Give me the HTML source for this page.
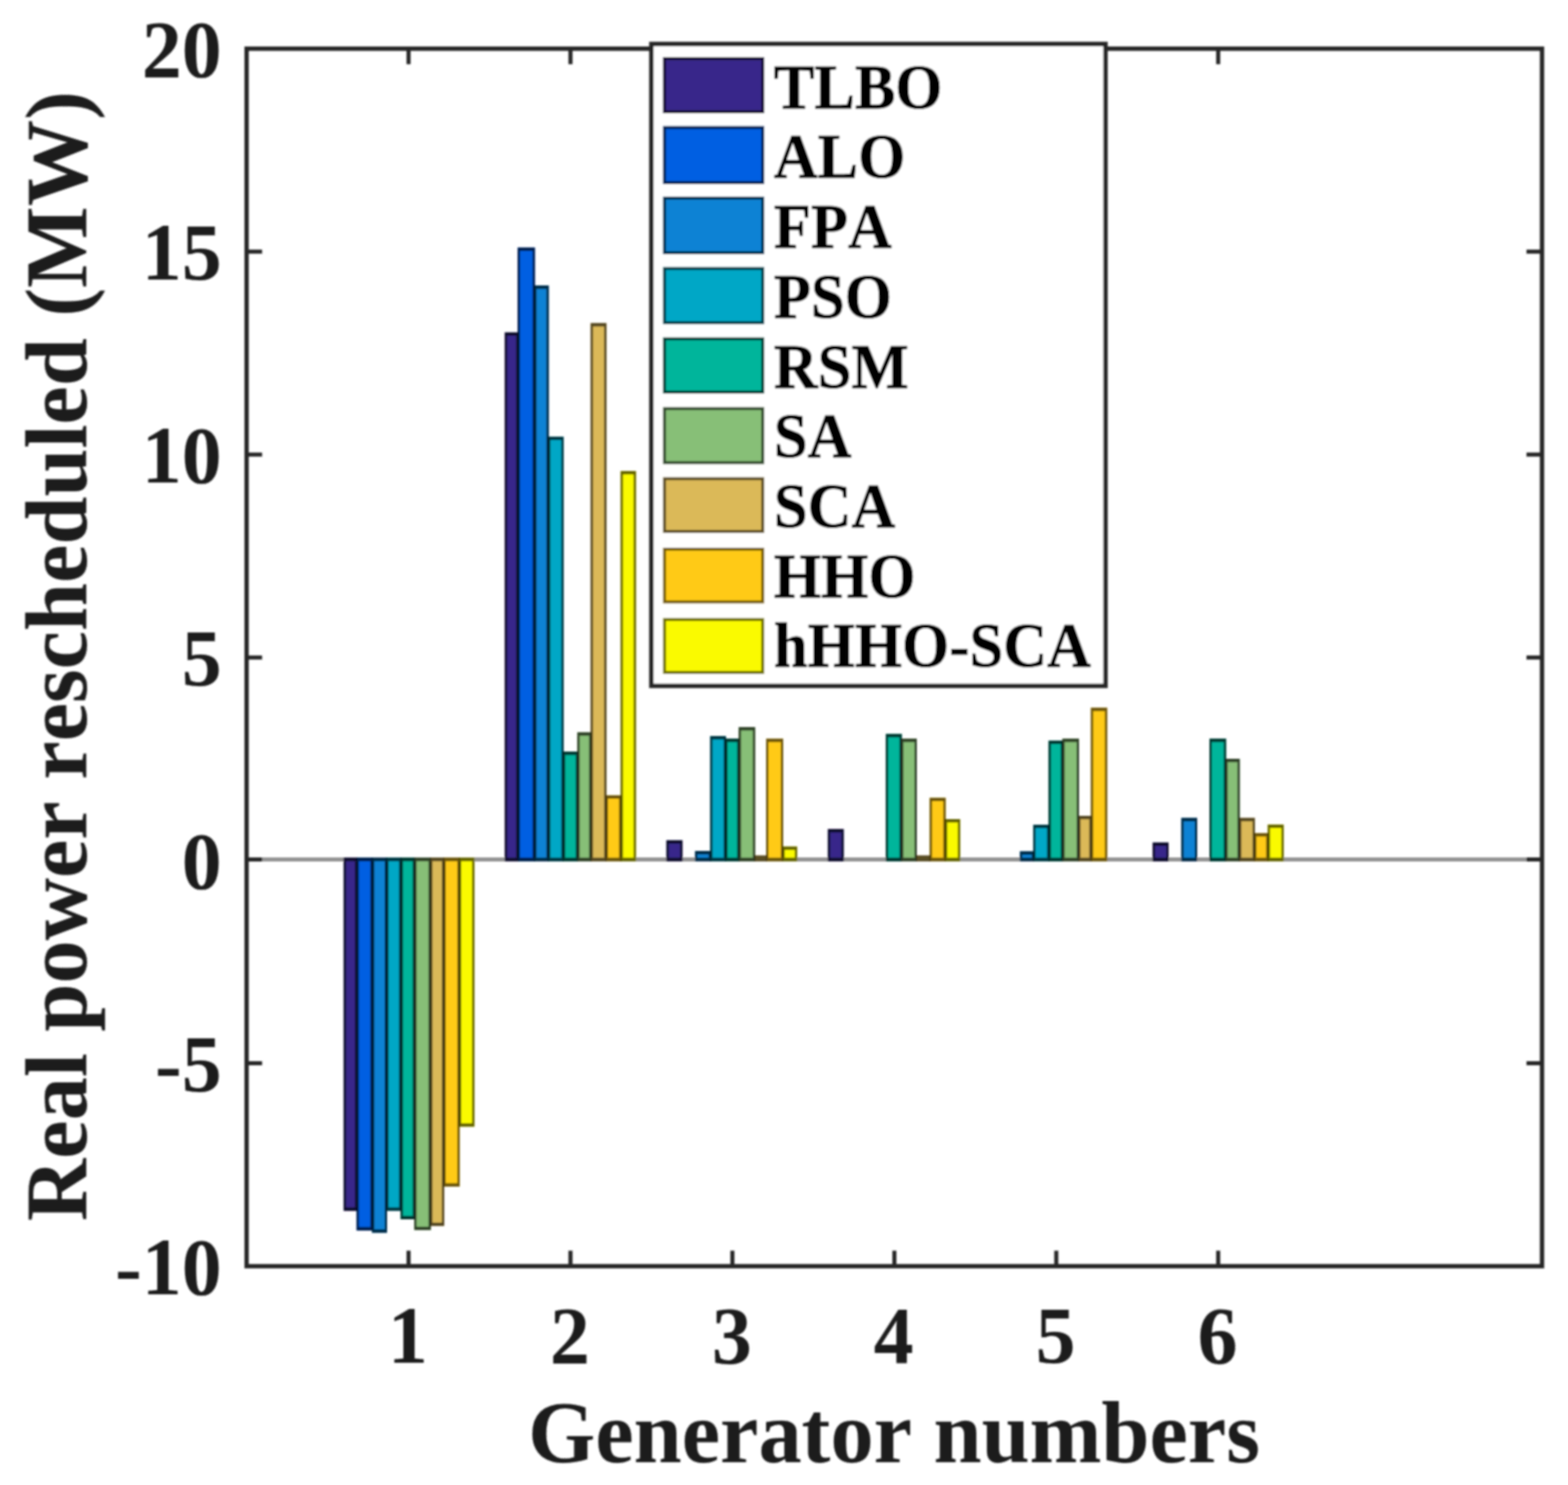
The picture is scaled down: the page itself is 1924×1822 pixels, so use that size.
<!DOCTYPE html>
<html lang="en"><head><meta charset="utf-8"><title>Real power rescheduled</title>
<style>
html,body{margin:0;padding:0;background:#fff;}
body{width:1924px;height:1822px;overflow:hidden;}
svg{display:block;}
text{font-family:"Liberation Serif","Times New Roman",serif;font-weight:bold;font-kerning:none;}
.tk{font-size:98px;fill:#1c1c1c;}
.lb{font-size:106px;fill:#1c1c1c;}
.lg{font-size:74.5px;fill:#000;stroke:#000;stroke-width:0.8px;stroke-linejoin:round;}
</style></head><body>
<svg width="1924" height="1822" viewBox="0 0 1924 1822">
<defs><filter id="soft" x="0" y="0" width="1924" height="1822" filterUnits="userSpaceOnUse"><feGaussianBlur stdDeviation="1.1"/></filter></defs>
<rect width="1924" height="1822" fill="#fff"/>
<g id="chart" filter="url(#soft)">
<line x1="302.6" y1="1054.5" x2="1892.1" y2="1054.5" stroke="#939393" stroke-width="5.2"/>
<g><rect x="421.70" y="1052.30" width="16.80" height="433.30" fill="#37288A"/><rect x="437.50" y="1052.30" width="19.90" height="457.40" fill="#025FE2"/><rect x="456.40" y="1052.30" width="18.50" height="460.20" fill="#0B82D4"/><rect x="473.90" y="1052.30" width="18.60" height="433.30" fill="#06A7C6"/><rect x="491.50" y="1052.30" width="17.80" height="443.70" fill="#02B59B"/><rect x="508.30" y="1052.30" width="20.40" height="456.90" fill="#87BF77"/><rect x="527.70" y="1052.30" width="17.40" height="451.90" fill="#DBB958"/><rect x="544.10" y="1052.30" width="20.00" height="403.60" fill="#FFCA14"/><rect x="563.10" y="1052.30" width="19.10" height="330.10" fill="#FAFA06"/><rect x="619.40" y="407.80" width="16.80" height="648.90" fill="#37288A"/><rect x="635.20" y="303.70" width="21.20" height="753.00" fill="#025FE2"/><rect x="655.40" y="350.30" width="18.00" height="706.40" fill="#0B82D4"/><rect x="672.40" y="535.80" width="19.20" height="520.90" fill="#06A7C6"/><rect x="690.60" y="922.20" width="18.80" height="134.50" fill="#02B59B"/><rect x="708.40" y="898.50" width="17.30" height="158.20" fill="#87BF77"/><rect x="724.70" y="396.40" width="19.50" height="660.30" fill="#DBB958"/><rect x="743.20" y="975.80" width="19.30" height="80.90" fill="#FFCA14"/><rect x="761.50" y="577.90" width="18.90" height="478.80" fill="#FAFA06"/><rect x="817.70" y="1030.90" width="19.70" height="25.80" fill="#37288A"/><rect x="852.80" y="1044.10" width="19.60" height="12.60" fill="#0B82D4"/><rect x="871.40" y="903.10" width="19.40" height="153.60" fill="#06A7C6"/><rect x="889.80" y="906.30" width="17.60" height="150.40" fill="#02B59B"/><rect x="906.40" y="892.10" width="20.20" height="164.60" fill="#87BF77"/><rect x="925.60" y="1049.60" width="15.50" height="7.10" fill="#DBB958"/><rect x="940.10" y="906.30" width="20.90" height="150.40" fill="#FFCA14"/><rect x="960.00" y="1038.60" width="18.20" height="18.10" fill="#FAFA06"/><rect x="1015.80" y="1017.20" width="19.50" height="39.50" fill="#37288A"/><rect x="1086.90" y="900.50" width="19.70" height="156.20" fill="#02B59B"/><rect x="1105.60" y="906.30" width="19.40" height="150.40" fill="#87BF77"/><rect x="1124.00" y="1049.60" width="17.70" height="7.10" fill="#DBB958"/><rect x="1140.70" y="978.80" width="19.70" height="77.90" fill="#FFCA14"/><rect x="1159.40" y="1005.00" width="18.80" height="51.70" fill="#FAFA06"/><rect x="1251.50" y="1044.50" width="17.30" height="12.20" fill="#0B82D4"/><rect x="1267.80" y="1011.90" width="19.80" height="44.80" fill="#06A7C6"/><rect x="1286.60" y="908.70" width="17.90" height="148.00" fill="#02B59B"/><rect x="1303.50" y="906.30" width="20.50" height="150.40" fill="#87BF77"/><rect x="1323.00" y="1001.00" width="16.50" height="55.70" fill="#DBB958"/><rect x="1338.50" y="868.30" width="20.10" height="188.40" fill="#FFCA14"/><rect x="1414.40" y="1033.70" width="19.50" height="23.00" fill="#37288A"/><rect x="1449.50" y="1003.50" width="19.50" height="53.20" fill="#0B82D4"/><rect x="1484.10" y="906.30" width="20.40" height="150.40" fill="#02B59B"/><rect x="1503.50" y="931.00" width="17.80" height="125.70" fill="#87BF77"/><rect x="1520.30" y="1003.50" width="19.50" height="53.20" fill="#DBB958"/><rect x="1538.80" y="1022.20" width="17.70" height="34.50" fill="#FFCA14"/><rect x="1555.50" y="1011.70" width="19.70" height="45.00" fill="#FAFA06"/></g>
<g fill="none" stroke="#000"><path d="M423.15 1481.40V1056.70M437.05 1481.40V1056.70" stroke-width="2.9" stroke-opacity="0.68"/><path d="M421.70 1483.50H438.50" stroke-width="4.20" stroke-opacity="0.68"/><path d="M421.70 1054.5H438.50" stroke-width="4.4" stroke-opacity="0.68"/><path d="M438.95 1505.50V1056.70M455.95 1505.50V1056.70" stroke-width="2.9" stroke-opacity="0.68"/><path d="M437.50 1507.60H457.40" stroke-width="4.20" stroke-opacity="0.68"/><path d="M437.50 1054.5H457.40" stroke-width="4.4" stroke-opacity="0.68"/><path d="M457.85 1508.30V1056.70M473.45 1508.30V1056.70" stroke-width="2.9" stroke-opacity="0.68"/><path d="M456.40 1510.40H474.90" stroke-width="4.20" stroke-opacity="0.68"/><path d="M456.40 1054.5H474.90" stroke-width="4.4" stroke-opacity="0.68"/><path d="M475.35 1481.40V1056.70M491.05 1481.40V1056.70" stroke-width="2.9" stroke-opacity="0.68"/><path d="M473.90 1483.50H492.50" stroke-width="4.20" stroke-opacity="0.68"/><path d="M473.90 1054.5H492.50" stroke-width="4.4" stroke-opacity="0.68"/><path d="M492.95 1491.80V1056.70M507.85 1491.80V1056.70" stroke-width="2.9" stroke-opacity="0.7"/><path d="M491.50 1493.90H509.30" stroke-width="4.20" stroke-opacity="0.7"/><path d="M491.50 1054.5H509.30" stroke-width="4.4" stroke-opacity="0.7"/><path d="M509.75 1505.00V1056.70M527.25 1505.00V1056.70" stroke-width="2.9" stroke-opacity="0.66"/><path d="M508.30 1507.10H528.70" stroke-width="4.20" stroke-opacity="0.66"/><path d="M508.30 1054.5H528.70" stroke-width="4.4" stroke-opacity="0.66"/><path d="M529.15 1500.00V1056.70M543.65 1500.00V1056.70" stroke-width="2.9" stroke-opacity="0.62"/><path d="M527.70 1502.10H545.10" stroke-width="4.20" stroke-opacity="0.62"/><path d="M527.70 1054.5H545.10" stroke-width="4.4" stroke-opacity="0.62"/><path d="M545.55 1451.70V1056.70M562.65 1451.70V1056.70" stroke-width="2.9" stroke-opacity="0.58"/><path d="M544.10 1453.80H564.10" stroke-width="4.20" stroke-opacity="0.58"/><path d="M544.10 1054.5H564.10" stroke-width="4.4" stroke-opacity="0.58"/><path d="M564.55 1378.20V1056.70M580.75 1378.20V1056.70" stroke-width="2.9" stroke-opacity="0.6"/><path d="M563.10 1380.30H582.20" stroke-width="4.20" stroke-opacity="0.6"/><path d="M563.10 1054.5H582.20" stroke-width="4.4" stroke-opacity="0.6"/><path d="M620.85 412.00V1052.30M634.75 412.00V1052.30" stroke-width="2.9" stroke-opacity="0.68"/><path d="M619.40 409.90H636.20" stroke-width="4.20" stroke-opacity="0.68"/><path d="M619.40 1054.5H636.20" stroke-width="4.4" stroke-opacity="0.68"/><path d="M636.65 307.90V1052.30M654.95 307.90V1052.30" stroke-width="2.9" stroke-opacity="0.68"/><path d="M635.20 305.80H656.40" stroke-width="4.20" stroke-opacity="0.68"/><path d="M635.20 1054.5H656.40" stroke-width="4.4" stroke-opacity="0.68"/><path d="M656.85 354.50V1052.30M671.95 354.50V1052.30" stroke-width="2.9" stroke-opacity="0.68"/><path d="M655.40 352.40H673.40" stroke-width="4.20" stroke-opacity="0.68"/><path d="M655.40 1054.5H673.40" stroke-width="4.4" stroke-opacity="0.68"/><path d="M673.85 540.00V1052.30M690.15 540.00V1052.30" stroke-width="2.9" stroke-opacity="0.68"/><path d="M672.40 537.90H691.60" stroke-width="4.20" stroke-opacity="0.68"/><path d="M672.40 1054.5H691.60" stroke-width="4.4" stroke-opacity="0.68"/><path d="M692.05 926.40V1052.30M707.95 926.40V1052.30" stroke-width="2.9" stroke-opacity="0.7"/><path d="M690.60 924.30H709.40" stroke-width="4.20" stroke-opacity="0.7"/><path d="M690.60 1054.5H709.40" stroke-width="4.4" stroke-opacity="0.7"/><path d="M709.85 902.70V1052.30M724.25 902.70V1052.30" stroke-width="2.9" stroke-opacity="0.66"/><path d="M708.40 900.60H725.70" stroke-width="4.20" stroke-opacity="0.66"/><path d="M708.40 1054.5H725.70" stroke-width="4.4" stroke-opacity="0.66"/><path d="M726.15 400.60V1052.30M742.75 400.60V1052.30" stroke-width="2.9" stroke-opacity="0.62"/><path d="M724.70 398.50H744.20" stroke-width="4.20" stroke-opacity="0.62"/><path d="M724.70 1054.5H744.20" stroke-width="4.4" stroke-opacity="0.62"/><path d="M744.65 980.00V1052.30M761.05 980.00V1052.30" stroke-width="2.9" stroke-opacity="0.58"/><path d="M743.20 977.90H762.50" stroke-width="4.20" stroke-opacity="0.58"/><path d="M743.20 1054.5H762.50" stroke-width="4.4" stroke-opacity="0.58"/><path d="M762.95 582.10V1052.30M778.95 582.10V1052.30" stroke-width="2.9" stroke-opacity="0.6"/><path d="M761.50 580.00H780.40" stroke-width="4.20" stroke-opacity="0.6"/><path d="M761.50 1054.5H780.40" stroke-width="4.4" stroke-opacity="0.6"/><path d="M819.15 1035.10V1052.30M835.95 1035.10V1052.30" stroke-width="2.9" stroke-opacity="0.68"/><path d="M817.70 1033.00H837.40" stroke-width="4.20" stroke-opacity="0.68"/><path d="M817.70 1054.5H837.40" stroke-width="4.4" stroke-opacity="0.68"/><path d="M854.25 1048.30V1052.30M870.95 1048.30V1052.30" stroke-width="2.9" stroke-opacity="0.68"/><path d="M852.80 1046.20H872.40" stroke-width="4.20" stroke-opacity="0.68"/><path d="M852.80 1054.5H872.40" stroke-width="4.4" stroke-opacity="0.68"/><path d="M872.85 907.30V1052.30M889.35 907.30V1052.30" stroke-width="2.9" stroke-opacity="0.68"/><path d="M871.40 905.20H890.80" stroke-width="4.20" stroke-opacity="0.68"/><path d="M871.40 1054.5H890.80" stroke-width="4.4" stroke-opacity="0.68"/><path d="M891.25 910.50V1052.30M905.95 910.50V1052.30" stroke-width="2.9" stroke-opacity="0.7"/><path d="M889.80 908.40H907.40" stroke-width="4.20" stroke-opacity="0.7"/><path d="M889.80 1054.5H907.40" stroke-width="4.4" stroke-opacity="0.7"/><path d="M907.85 896.30V1052.30M925.15 896.30V1052.30" stroke-width="2.9" stroke-opacity="0.66"/><path d="M906.40 894.20H926.60" stroke-width="4.20" stroke-opacity="0.66"/><path d="M906.40 1054.5H926.60" stroke-width="4.4" stroke-opacity="0.66"/><path d="M925.60 1050.95H941.10" stroke-width="2.70" stroke-opacity="0.62"/><path d="M925.60 1054.5H941.10" stroke-width="4.4" stroke-opacity="0.62"/><path d="M941.55 910.50V1052.30M959.55 910.50V1052.30" stroke-width="2.9" stroke-opacity="0.58"/><path d="M940.10 908.40H961.00" stroke-width="4.20" stroke-opacity="0.58"/><path d="M940.10 1054.5H961.00" stroke-width="4.4" stroke-opacity="0.58"/><path d="M961.45 1042.80V1052.30M976.75 1042.80V1052.30" stroke-width="2.9" stroke-opacity="0.6"/><path d="M960.00 1040.70H978.20" stroke-width="4.20" stroke-opacity="0.6"/><path d="M960.00 1054.5H978.20" stroke-width="4.4" stroke-opacity="0.6"/><path d="M1017.25 1021.40V1052.30M1033.85 1021.40V1052.30" stroke-width="2.9" stroke-opacity="0.68"/><path d="M1015.80 1019.30H1035.30" stroke-width="4.20" stroke-opacity="0.68"/><path d="M1015.80 1054.5H1035.30" stroke-width="4.4" stroke-opacity="0.68"/><path d="M1088.35 904.70V1052.30M1105.15 904.70V1052.30" stroke-width="2.9" stroke-opacity="0.7"/><path d="M1086.90 902.60H1106.60" stroke-width="4.20" stroke-opacity="0.7"/><path d="M1086.90 1054.5H1106.60" stroke-width="4.4" stroke-opacity="0.7"/><path d="M1107.05 910.50V1052.30M1123.55 910.50V1052.30" stroke-width="2.9" stroke-opacity="0.66"/><path d="M1105.60 908.40H1125.00" stroke-width="4.20" stroke-opacity="0.66"/><path d="M1105.60 1054.5H1125.00" stroke-width="4.4" stroke-opacity="0.66"/><path d="M1124.00 1050.95H1141.70" stroke-width="2.70" stroke-opacity="0.62"/><path d="M1124.00 1054.5H1141.70" stroke-width="4.4" stroke-opacity="0.62"/><path d="M1142.15 983.00V1052.30M1158.95 983.00V1052.30" stroke-width="2.9" stroke-opacity="0.58"/><path d="M1140.70 980.90H1160.40" stroke-width="4.20" stroke-opacity="0.58"/><path d="M1140.70 1054.5H1160.40" stroke-width="4.4" stroke-opacity="0.58"/><path d="M1160.85 1009.20V1052.30M1176.75 1009.20V1052.30" stroke-width="2.9" stroke-opacity="0.6"/><path d="M1159.40 1007.10H1178.20" stroke-width="4.20" stroke-opacity="0.6"/><path d="M1159.40 1054.5H1178.20" stroke-width="4.4" stroke-opacity="0.6"/><path d="M1252.95 1048.70V1052.30M1267.35 1048.70V1052.30" stroke-width="2.9" stroke-opacity="0.68"/><path d="M1251.50 1046.60H1268.80" stroke-width="4.20" stroke-opacity="0.68"/><path d="M1251.50 1054.5H1268.80" stroke-width="4.4" stroke-opacity="0.68"/><path d="M1269.25 1016.10V1052.30M1286.15 1016.10V1052.30" stroke-width="2.9" stroke-opacity="0.68"/><path d="M1267.80 1014.00H1287.60" stroke-width="4.20" stroke-opacity="0.68"/><path d="M1267.80 1054.5H1287.60" stroke-width="4.4" stroke-opacity="0.68"/><path d="M1288.05 912.90V1052.30M1303.05 912.90V1052.30" stroke-width="2.9" stroke-opacity="0.7"/><path d="M1286.60 910.80H1304.50" stroke-width="4.20" stroke-opacity="0.7"/><path d="M1286.60 1054.5H1304.50" stroke-width="4.4" stroke-opacity="0.7"/><path d="M1304.95 910.50V1052.30M1322.55 910.50V1052.30" stroke-width="2.9" stroke-opacity="0.66"/><path d="M1303.50 908.40H1324.00" stroke-width="4.20" stroke-opacity="0.66"/><path d="M1303.50 1054.5H1324.00" stroke-width="4.4" stroke-opacity="0.66"/><path d="M1324.45 1005.20V1052.30M1338.05 1005.20V1052.30" stroke-width="2.9" stroke-opacity="0.62"/><path d="M1323.00 1003.10H1339.50" stroke-width="4.20" stroke-opacity="0.62"/><path d="M1323.00 1054.5H1339.50" stroke-width="4.4" stroke-opacity="0.62"/><path d="M1339.95 872.50V1052.30M1357.15 872.50V1052.30" stroke-width="2.9" stroke-opacity="0.58"/><path d="M1338.50 870.40H1358.60" stroke-width="4.20" stroke-opacity="0.58"/><path d="M1338.50 1054.5H1358.60" stroke-width="4.4" stroke-opacity="0.58"/><path d="M1415.85 1037.90V1052.30M1432.45 1037.90V1052.30" stroke-width="2.9" stroke-opacity="0.68"/><path d="M1414.40 1035.80H1433.90" stroke-width="4.20" stroke-opacity="0.68"/><path d="M1414.40 1054.5H1433.90" stroke-width="4.4" stroke-opacity="0.68"/><path d="M1450.95 1007.70V1052.30M1467.55 1007.70V1052.30" stroke-width="2.9" stroke-opacity="0.68"/><path d="M1449.50 1005.60H1469.00" stroke-width="4.20" stroke-opacity="0.68"/><path d="M1449.50 1054.5H1469.00" stroke-width="4.4" stroke-opacity="0.68"/><path d="M1485.55 910.50V1052.30M1503.05 910.50V1052.30" stroke-width="2.9" stroke-opacity="0.7"/><path d="M1484.10 908.40H1504.50" stroke-width="4.20" stroke-opacity="0.7"/><path d="M1484.10 1054.5H1504.50" stroke-width="4.4" stroke-opacity="0.7"/><path d="M1504.95 935.20V1052.30M1519.85 935.20V1052.30" stroke-width="2.9" stroke-opacity="0.66"/><path d="M1503.50 933.10H1521.30" stroke-width="4.20" stroke-opacity="0.66"/><path d="M1503.50 1054.5H1521.30" stroke-width="4.4" stroke-opacity="0.66"/><path d="M1521.75 1007.70V1052.30M1538.35 1007.70V1052.30" stroke-width="2.9" stroke-opacity="0.62"/><path d="M1520.30 1005.60H1539.80" stroke-width="4.20" stroke-opacity="0.62"/><path d="M1520.30 1054.5H1539.80" stroke-width="4.4" stroke-opacity="0.62"/><path d="M1540.25 1026.40V1052.30M1555.05 1026.40V1052.30" stroke-width="2.9" stroke-opacity="0.58"/><path d="M1538.80 1024.30H1556.50" stroke-width="4.20" stroke-opacity="0.58"/><path d="M1538.80 1054.5H1556.50" stroke-width="4.4" stroke-opacity="0.58"/><path d="M1556.95 1015.90V1052.30M1573.75 1015.90V1052.30" stroke-width="2.9" stroke-opacity="0.6"/><path d="M1555.50 1013.80H1575.20" stroke-width="4.20" stroke-opacity="0.6"/><path d="M1555.50 1054.5H1575.20" stroke-width="4.4" stroke-opacity="0.6"/></g>
<rect x="302.6" y="59.75" width="1589.5" height="1493.8" fill="none" stroke="#262626" stroke-width="5.3"/>
<path d="M501.3 1553.6v-19M501.3 59.75v19M700.0 1553.6v-19M700.0 59.75v19M898.7 1553.6v-19M898.7 59.75v19M1097.4 1553.6v-19M1097.4 59.75v19M1296.1 1553.6v-19M1296.1 59.75v19M1494.8 1553.6v-19M1494.8 59.75v19M302.6 308.7h19M1892.1 308.7h-19M302.6 557.7h19M1892.1 557.7h-19M302.6 806.7h19M1892.1 806.7h-19M302.6 1054.5h19M1892.1 1054.5h-19M302.6 1304.6h19M1892.1 1304.6h-19" stroke="#262626" stroke-width="5" fill="none"/>
<text class="tk" transform="translate(272 94.3) scale(1 1.01)" text-anchor="end">20</text>
<text class="tk" transform="translate(272 343.3) scale(1 1.01)" text-anchor="end">15</text>
<text class="tk" transform="translate(272 592.3) scale(1 1.01)" text-anchor="end">10</text>
<text class="tk" transform="translate(272 841.3) scale(1 1.01)" text-anchor="end">5</text>
<text class="tk" transform="translate(272 1090.2) scale(1 1.01)" text-anchor="end">0</text>
<text class="tk" transform="translate(272 1339.2) scale(1 1.01)" text-anchor="end">-5</text>
<text class="tk" transform="translate(272 1588.2) scale(1 1.01)" text-anchor="end">-10</text>
<text class="tk" transform="translate(500.5 1672.1) scale(1 1.01)" text-anchor="middle">1</text>
<text class="tk" transform="translate(699.2 1672.1) scale(1 1.01)" text-anchor="middle">2</text>
<text class="tk" transform="translate(897.9 1672.1) scale(1 1.01)" text-anchor="middle">3</text>
<text class="tk" transform="translate(1096.6 1672.1) scale(1 1.01)" text-anchor="middle">4</text>
<text class="tk" transform="translate(1295.3 1672.1) scale(1 1.01)" text-anchor="middle">5</text>
<text class="tk" transform="translate(1494.0 1672.1) scale(1 1.01)" text-anchor="middle">6</text>
<text class="lb" transform="translate(1097 1794.4) scale(1 1.01)" text-anchor="middle">Generator numbers</text>
<text class="lb" transform="translate(105.8 805) rotate(-90) scale(1 1.01)" text-anchor="middle">Real power rescheduled (MW)</text>
<rect x="799.3" y="54" width="557.2" height="787.5" fill="#fff" stroke="#262626" stroke-width="5.5"/>
<rect x="813.6" y="70.1" width="124.0" height="68.9" fill="#37288A"/>
<rect x="815.4" y="71.9" width="120.4" height="65.3" fill="none" stroke="#000" stroke-opacity="0.64" stroke-width="3.6"/>
<text class="lg" transform="translate(949.5 132.6) scale(1 1.04)">TLBO</text>
<rect x="813.6" y="154.7" width="124.0" height="71.1" fill="#025FE2"/>
<rect x="815.4" y="156.5" width="120.4" height="67.5" fill="none" stroke="#000" stroke-opacity="0.64" stroke-width="3.6"/>
<text class="lg" transform="translate(949.5 218.3) scale(1 1.04)">ALO</text>
<rect x="813.6" y="241.4" width="124.0" height="70.4" fill="#0B82D4"/>
<rect x="815.4" y="243.2" width="120.4" height="66.8" fill="none" stroke="#000" stroke-opacity="0.64" stroke-width="3.6"/>
<text class="lg" transform="translate(949.5 304.1) scale(1 1.04)">FPA</text>
<rect x="813.6" y="327.7" width="124.0" height="69.9" fill="#06A7C6"/>
<rect x="815.4" y="329.5" width="120.4" height="66.3" fill="none" stroke="#000" stroke-opacity="0.64" stroke-width="3.6"/>
<text class="lg" transform="translate(949.5 389.8) scale(1 1.04)">PSO</text>
<rect x="813.6" y="413.9" width="124.0" height="68.9" fill="#02B59B"/>
<rect x="815.4" y="415.7" width="120.4" height="65.3" fill="none" stroke="#000" stroke-opacity="0.66" stroke-width="3.6"/>
<text class="lg" transform="translate(949.5 475.5) scale(1 1.04)">RSM</text>
<rect x="813.6" y="499.6" width="124.0" height="69.8" fill="#87BF77"/>
<rect x="815.4" y="501.4" width="120.4" height="66.2" fill="none" stroke="#000" stroke-opacity="0.62" stroke-width="3.6"/>
<text class="lg" transform="translate(949.5 561.2) scale(1 1.04)">SA</text>
<rect x="813.6" y="585.6" width="124.0" height="68.2" fill="#DBB958"/>
<rect x="815.4" y="587.4" width="120.4" height="64.6" fill="none" stroke="#000" stroke-opacity="0.58" stroke-width="3.6"/>
<text class="lg" transform="translate(949.5 647.0) scale(1 1.04)">SCA</text>
<rect x="813.6" y="672.0" width="124.0" height="68.3" fill="#FFCA14"/>
<rect x="815.4" y="673.8" width="120.4" height="64.7" fill="none" stroke="#000" stroke-opacity="0.54" stroke-width="3.6"/>
<text class="lg" transform="translate(949.5 732.7) scale(1 1.04)">HHO</text>
<rect x="813.6" y="758.4" width="124.0" height="68.4" fill="#FAFA06"/>
<rect x="815.4" y="760.2" width="120.4" height="64.8" fill="none" stroke="#000" stroke-opacity="0.56" stroke-width="3.6"/>
<text class="lg" transform="translate(949.5 818.4) scale(1 1.04)">hHHO-SCA</text>
</g></svg></body></html>
